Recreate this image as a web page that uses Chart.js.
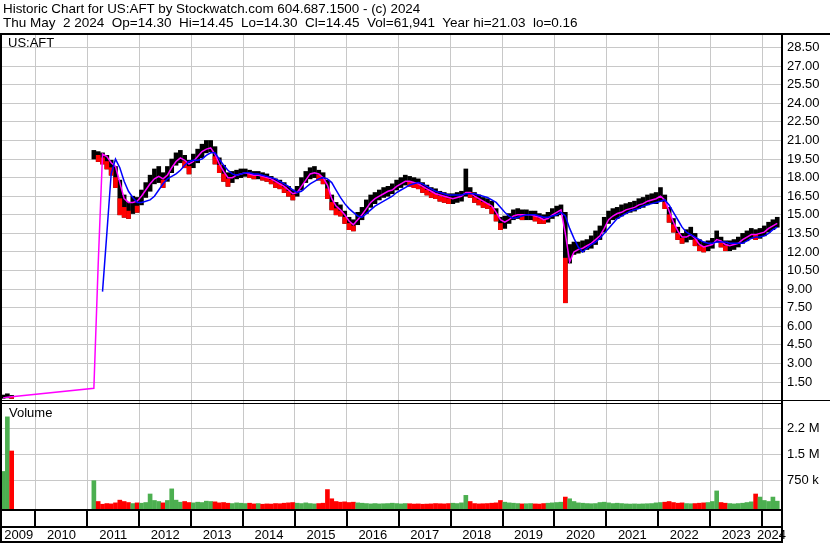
<!DOCTYPE html>
<html><head><meta charset="utf-8">
<script src="https://cdn.jsdelivr.net/npm/chart.js@4"></script>
<style>
html,body{margin:0;padding:0;background:#fff;}
#wrap{position:relative;width:830px;height:543px;overflow:hidden;background:#fff;}
canvas{position:absolute;left:0;top:0;}
.t{position:absolute;font-family:Arial,"Liberation Sans",sans-serif;color:#000;white-space:pre;line-height:1;}
</style></head>
<body><div id="wrap"><canvas id="c" width="830" height="543"></canvas>
<div class="t" style="left:3px;top:2px;font-size:13.4px">Historic Chart for US:AFT by Stockwatch.com 604.687.1500 - (c) 2024</div>
<div class="t" style="left:3px;top:16px;font-size:13.5px">Thu May  2 2024  Op=14.30  Hi=14.45  Lo=14.30  Cl=14.45  Vol=61,941  Year hi=21.03  lo=0.16</div>
<div class="t" style="left:8px;top:36px;font-size:13px">US:AFT</div>
<div class="t" style="left:9px;top:406px;font-size:13px">Volume</div>
</div>
<script>
// ---- categories: months with trading data (gap Aug 2009 - Jan 2011) ----
const firstMonths = ["2009-05","2009-06","2009-07"];
const rangeStart = "2011-02", rangeEnd = "2024-04";
const yearTicks = [2010,2011,2012,2013,2014,2015,2016,2017,2018,2019,2020,2021,2022,2023,2024];
const yearLabels = ["2009","2010","2011","2012","2013","2014","2015","2016","2017","2018","2019","2020","2021","2022","2023","2024"];
const priceTicks = [1.5,3,4.5,6,7.5,9,10.5,12,13.5,15,16.5,18,19.5,21,22.5,24,25.5,27,28.5];
const volTicks = [750000,1500000,2250000];
const volTickLabels = ["750 k","1.5 M","2.2 M"];

// ---- monthly price ranges ----
const priceLow = [
 0.18,0.22,0.18,
 19.5,19.3,19.1,18.7,18.2,17.2,15.0,14.8,14.7,15.1,15.2,
 15.8,16.4,16.9,17.5,17.6,17.2,17.7,18.4,19.0,19.2,18.8,18.3,
 18.8,19.2,19.6,20.0,20.1,19.1,18.4,17.7,17.3,17.6,17.9,18.0,
 18.1,18.0,17.9,17.9,17.8,17.7,17.5,17.2,17.1,16.8,16.5,16.2,
 16.5,17.0,17.6,17.9,18.0,17.8,17.5,16.3,15.4,15.0,14.9,14.3,
 13.8,13.7,14.2,14.6,15.1,15.6,15.9,16.2,16.4,16.5,16.7,17.0,
 17.2,17.4,17.3,17.2,17.1,16.8,16.6,16.4,16.3,16.1,16.0,15.9,
 15.9,16.0,16.1,16.5,16.4,16.0,15.8,15.6,15.5,15.1,14.5,13.8,
 13.9,14.3,14.6,14.7,14.6,14.6,14.6,14.5,14.3,14.3,14.4,14.7,
 14.9,15.0,7.9,11.1,11.8,11.9,12.0,12.2,12.3,12.6,13.0,13.6,
 14.3,14.6,14.7,14.9,15.1,15.2,15.3,15.5,15.6,15.8,15.9,15.9,
 16.1,15.5,14.4,13.6,13.0,12.7,12.8,13.0,12.5,12.1,12.0,12.1,
 12.3,12.8,12.4,12.1,12.1,12.2,12.4,12.7,12.9,13.1,13.0,13.1,
 13.3,13.6,13.8,14.0
];
const priceHigh = [
 0.45,0.55,0.42,
 20.2,20.1,20.0,19.8,19.4,18.9,17.8,16.6,16.0,16.5,16.4,
 17.0,17.6,18.2,18.7,18.9,18.4,18.9,19.5,20.0,20.2,19.8,19.4,
 19.9,20.3,20.7,21.0,21.0,20.5,19.6,19.0,18.4,18.5,18.6,18.7,
 18.7,18.6,18.5,18.5,18.4,18.3,18.1,17.9,17.8,17.6,17.3,17.0,
 17.3,18.0,18.5,18.8,18.9,18.6,18.4,17.8,16.6,16.0,15.8,15.3,
 14.8,14.6,15.2,15.6,16.2,16.6,16.8,17.0,17.2,17.3,17.5,17.8,
 18.0,18.2,18.1,18.0,17.9,17.6,17.4,17.2,17.1,16.9,16.8,16.7,
 16.7,16.8,16.9,18.7,17.2,16.8,16.6,16.4,16.3,16.1,15.5,14.8,
 14.9,15.1,15.4,15.5,15.4,15.4,15.3,15.3,15.1,15.0,15.2,15.5,
 15.7,15.8,15.2,12.6,12.8,12.8,12.9,13.0,13.3,13.7,14.1,14.8,
 15.3,15.5,15.6,15.8,15.9,16.0,16.1,16.3,16.4,16.6,16.7,16.8,
 17.2,16.6,15.6,14.7,14.0,13.5,13.8,14.0,13.5,13.0,12.8,12.9,
 13.1,13.7,13.2,12.9,12.9,13.0,13.2,13.5,13.7,13.9,13.8,13.9,
 14.1,14.4,14.6,14.8
];
const priceClose = [
 0.30,0.36,0.28,
 19.9,19.8,19.6,19.3,18.8,18.0,16.3,15.6,15.3,15.8,15.7,
 16.5,17.0,17.5,18.1,18.3,17.8,18.3,19.0,19.5,19.8,19.3,18.9,
 19.3,19.8,20.2,20.5,20.6,19.7,19.0,18.3,17.9,18.0,18.3,18.3,
 18.4,18.3,18.2,18.2,18.1,18.0,17.8,17.6,17.5,17.2,16.9,16.6,
 16.9,17.5,18.0,18.4,18.5,18.2,17.9,17.1,16.0,15.5,15.3,14.8,
 14.3,14.1,14.7,15.1,15.6,16.1,16.4,16.6,16.8,16.9,17.1,17.4,
 17.6,17.8,17.7,17.6,17.5,17.2,17.0,16.8,16.7,16.5,16.4,16.3,
 16.3,16.4,16.5,17.0,16.8,16.4,16.2,16.0,15.9,15.6,15.0,14.3,
 14.4,14.7,15.0,15.1,15.0,15.0,15.0,14.9,14.7,14.6,14.8,15.1,
 15.3,15.4,11.5,11.9,12.3,12.3,12.4,12.6,12.8,13.1,13.5,14.2,
 14.8,15.0,15.1,15.3,15.5,15.6,15.7,15.9,16.0,16.2,16.3,16.3,
 16.6,16.0,15.0,14.2,13.5,13.1,13.3,13.5,13.0,12.5,12.4,12.5,
 12.7,13.2,12.8,12.5,12.5,12.6,12.8,13.1,13.3,13.5,13.4,13.5,
 13.7,14.0,14.2,14.4
];
// ---- moving averages ----
const maFast = [
 0.22,0.28,0.32,
 1.0,11.0,19.9,19.7,19.2,18.9,17.6,16.3,16.0,16.0,16.1,
 16.5,17.0,17.5,17.9,18.1,17.9,18.2,18.8,19.3,19.6,19.4,19.1,
 19.3,19.7,20.1,20.3,20.4,19.9,19.1,18.5,18.0,18.0,18.2,18.3,
 18.4,18.3,18.2,18.2,18.1,18.0,17.9,17.7,17.5,17.3,17.0,16.7,
 16.8,17.3,17.8,18.3,18.4,18.3,18.0,17.4,16.3,15.7,15.4,15.0,
 14.5,14.2,14.6,15.0,15.5,16.0,16.3,16.5,16.7,16.9,17.0,17.3,
 17.5,17.7,17.7,17.6,17.5,17.3,17.1,16.9,16.7,16.6,16.5,16.4,
 16.3,16.4,16.5,16.8,16.8,16.5,16.3,16.1,15.9,15.7,15.2,14.6,
 14.4,14.6,14.9,15.0,15.0,15.0,15.0,14.9,14.8,14.6,14.7,15.0,
 15.2,15.4,13.5,11.2,12.0,12.2,12.3,12.5,12.7,13.0,13.3,13.9,
 14.6,14.9,15.1,15.2,15.4,15.5,15.6,15.8,15.9,16.1,16.2,16.3,
 16.5,16.2,15.3,14.4,13.7,13.2,13.2,13.4,13.1,12.6,12.4,12.5,
 12.6,13.0,12.9,12.6,12.5,12.6,12.7,13.0,13.2,13.4,13.4,13.5,
 13.6,13.9,14.1,14.3
];
const maSlow = [
 null,null,null,
 null,null,8.8,13.5,18.3,19.5,18.8,17.7,16.9,16.4,16.0,
 16.0,16.1,16.2,16.5,17.0,17.5,17.9,18.1,18.3,18.6,19.0,19.3,
 19.4,19.4,19.5,19.8,20.0,20.0,19.5,19.0,18.6,18.3,18.2,18.3,
 18.4,18.4,18.3,18.3,18.2,18.1,18.0,17.9,17.7,17.5,17.3,17.0,
 16.8,16.9,17.2,17.5,17.7,17.9,18.0,17.9,17.6,17.0,16.4,15.9,
 15.5,15.2,14.9,14.8,15.1,15.4,15.7,15.9,16.1,16.3,16.5,16.8,
 17.0,17.2,17.4,17.5,17.6,17.5,17.3,17.1,16.9,16.8,16.7,16.6,
 16.6,16.6,16.6,16.7,16.7,16.7,16.6,16.5,16.4,16.2,16.0,15.6,
 15.2,14.9,14.7,14.8,14.9,15.0,15.0,15.0,14.9,14.8,14.8,14.9,
 15.0,15.2,14.9,13.9,13.1,12.4,12.0,12.3,12.6,12.8,13.1,13.5,
 13.9,14.3,14.7,14.9,15.1,15.3,15.4,15.5,15.7,15.8,15.9,16.0,
 16.1,16.2,15.8,15.2,14.6,14.0,13.6,13.4,13.2,13.0,12.8,12.7,
 12.7,12.8,12.8,12.8,12.7,12.7,12.7,12.7,12.9,13.1,13.2,13.2,
 13.3,13.5,13.8,14.0
];
// ---- volume (shares) ----
const volume = [
 1000000,2600000,1600000,
 730000,120000,40000,60000,50000,80000,160000,120000,90000,60000,80000,
 70000,90000,340000,150000,120000,80000,150000,490000,160000,100000,120000,90000,
 80000,100000,90000,130000,120000,110000,80000,90000,70000,60000,80000,70000,
 60000,70000,50000,60000,40000,50000,45000,60000,55000,70000,80000,90000,
 70000,60000,80000,60000,50000,60000,70000,470000,200000,120000,100000,110000,
 90000,100000,80000,70000,60000,50000,60000,50000,55000,60000,70000,60000,
 50000,60000,55000,45000,50000,40000,45000,50000,60000,55000,50000,60000,
 70000,60000,80000,300000,120000,60000,50000,55000,60000,70000,80000,150000,
 100000,80000,70000,60000,50000,55000,60000,50000,45000,60000,70000,80000,
 90000,100000,250000,200000,120000,80000,70000,60000,55000,60000,90000,100000,
 80000,60000,70000,60000,50000,45000,50000,45000,50000,55000,60000,80000,
 90000,100000,120000,90000,70000,80000,60000,55000,60000,70000,80000,90000,
 120000,430000,90000,70000,60000,50000,60000,70000,90000,110000,340000,250000,
 150000,120000,250000,130000
];

// build month list
const months = firstMonths.slice();
(function(){
  let [y,m] = rangeStart.split('-').map(Number);
  const [ye,me] = rangeEnd.split('-').map(Number);
  while (y < ye || (y === ye && m <= me)) {
    months.push(y + '-' + String(m).padStart(2,'0'));
    m++; if (m > 12) { m = 1; y++; }
  }
})();
const xOf = s => { const [y,m] = s.split('-').map(Number); return y + (m - 0.5) / 12; };
const xs = months.map(xOf);
const down = priceClose.map((c,i) => i > 0 && c < priceClose[i-1]);

const PRICE_MIN = -0.113, PRICE_MAX = 29.515;
const VOL_MIN = -99609, VOL_MAX = 3035156;
const FONT = 'Arial, "Liberation Sans", sans-serif';

const framePlugin = {
  id: 'frame',
  afterDraw(chart) {
    const ctx = chart.ctx, sx = chart.scales.x, a = chart.chartArea;
    ctx.save();
    ctx.fillStyle = '#000';
    ctx.fillRect(0, 33, 830, 2);
    ctx.fillRect(0, 33, 2, 510);
    ctx.fillRect(781, 33, 2, 510);
    ctx.fillRect(0, 400, 830, 1);
    ctx.fillRect(0, 403, 781, 1);
    ctx.fillRect(0, 509, 783, 2);
    ctx.fillRect(0, 526, 783, 2);
    ctx.fillRect(0, 541, 783, 2);
    yearTicks.forEach(v => {
      const px = Math.round(sx.getPixelForValue(v));
      ctx.fillRect(px - 1, 511, 2, 15);
    });
    ctx.font = '13px ' + FONT;
    ctx.textAlign = 'center';
    ctx.textBaseline = 'alphabetic';
    yearLabels.forEach((lab) => {
      const yv = Number(lab);
      const l = Math.max(a.left, sx.getPixelForValue(yv));
      const r = Math.min(a.right, sx.getPixelForValue(yv + 1));
      ctx.fillText(lab, (l + r) / 2, 539);
    });
    ctx.restore();
  }
};

const gridOpts = { color: '#c8c8c8', lineWidth: 1, drawTicks: false };

new Chart(document.getElementById('c'), {
  data: {
    datasets: [
      { type: 'line', label: 'MA slow', yAxisID: 'y', order: 1,
        data: xs.map((x,i) => ({x, y: maSlow[i]})),
        borderColor: '#0000ff', borderWidth: 1.5, pointRadius: 0, tension: 0, spanGaps: false },
      { type: 'line', label: 'MA fast', yAxisID: 'y', order: 2,
        data: xs.map((x,i) => ({x, y: maFast[i]})),
        borderColor: '#ff00ff', borderWidth: 1.5, pointRadius: 0, tension: 0 },
      { type: 'bar', label: 'Down', yAxisID: 'y', order: 3, grouped: false,
        data: xs.map((x,i) => ({x, y: down[i] ? [priceLow[i], priceClose[i]] : null})),
        backgroundColor: '#ff0000', barThickness: 4 },
      { type: 'bar', label: 'Price', yAxisID: 'y', order: 4, grouped: false,
        data: xs.map((x,i) => ({x, y: [priceLow[i], priceHigh[i]]})),
        backgroundColor: '#000000', barThickness: 4 },
      { type: 'bar', label: 'Volume', yAxisID: 'yv', order: 5, grouped: false, base: VOL_MIN,
        data: xs.map((x,i) => ({x, y: volume[i]})),
        backgroundColor: down.map(d => d ? '#ff0000' : '#4caf50'), barThickness: 4 }
    ]
  },
  options: {
    responsive: false, animation: false, devicePixelRatio: 1,
    layout: { padding: { left: 2, top: 35, right: 0, bottom: 0 } },
    plugins: { legend: { display: false }, tooltip: { enabled: false }, title: { display: false } },
    scales: {
      x: {
        type: 'linear', position: 'bottom', offset: false, min: 2009.355, max: 2024.364,
        afterBuildTicks: s => { s.ticks = yearTicks.map(v => ({ value: v })); },
        afterFit: s => { s.height = 34; },
        ticks: { display: false, autoSkip: false },
        grid: Object.assign({ offset: false }, gridOpts),
        border: { display: false }
      },
      y: {
        type: 'linear', position: 'right', stack: 'panels', stackWeight: 367,
        min: PRICE_MIN, max: PRICE_MAX,
        afterBuildTicks: s => { s.ticks = priceTicks.map(v => ({ value: v })); },
        afterFit: s => { s.width = 49; },
        ticks: { padding: 6, color: '#000', autoSkip: false, font: { family: FONT, size: 13 },
          callback: v => Number(v).toFixed(2) },
        grid: gridOpts,
        border: { display: false }
      },
      yv: {
        type: 'linear', position: 'right', stack: 'panels', stackWeight: 107,
        min: VOL_MIN, max: VOL_MAX,
        afterBuildTicks: s => { s.ticks = volTicks.map(v => ({ value: v })); },
        afterFit: s => { s.width = 49; },
        ticks: { padding: 6, color: '#000', autoSkip: false, font: { family: FONT, size: 13 },
          callback: (v) => volTickLabels[volTicks.indexOf(v)] },
        grid: gridOpts,
        border: { display: false }
      }
    }
  },
  plugins: [framePlugin]
});
</script>
</body></html>
